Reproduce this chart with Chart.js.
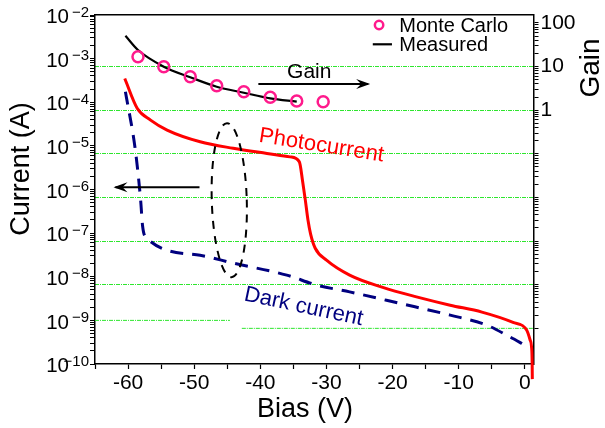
<!DOCTYPE html>
<html><head><meta charset="utf-8">
<script src="https://cdn.jsdelivr.net/npm/chart.js@4.4.1/dist/chart.umd.min.js"></script>
<style>html,body{margin:0;padding:0;background:#fff}#wrap{width:605px;height:428px;position:relative}</style>
</head><body><div id="wrap"><canvas id="c" width="605" height="428"></canvas></div>
<script>
// ---- tick labels ----
const biasTicks = [-60, -50, -40, -30, -20, -10, 0];
const currentDecades = [-10, -9, -8, -7, -6, -5, -4, -3, -2];
const gainLabels = [1, 10, 100];
const gainGridDecades = [-4, -3, -2, -1, 0, 1];

// ---- Monte Carlo gain (circles) ----
const mcBias = [-58.5, -54.6, -50.6, -46.6, -42.5, -38.5, -34.5, -30.5];
const mcGain = [16.9, 9.95, 5.86, 3.65, 2.65, 1.98, 1.63, 1.57];

// ---- Measured gain (black line) ----
const measBias = [-60.4, -58.5, -54.6, -50.6, -46.6, -42.5, -38.5, -34.5];
const measGain = [51, 24, 9.95, 5.7, 3.46, 2.52, 1.87, 1.57];

// ---- Photocurrent (red) ----
const photoBias = [-60.5, -58.6, -56.6, -54.1, -49.1, -44.1, -39.0, -35.5, -34.1, -33.6, -33.2, -32.8, -32.4, -31.7, -30.0, -26.5, -21.5, -16.4, -11.3, -6.5, -1.8, 0.26, 0.8, 1.0, 1.1, 1.12];
const photoCurrent = [3.5e-4, 7.2e-5, 3.9e-5, 2.3e-5, 1.24e-5, 8.8e-6, 6.7e-6, 5.6e-6, 4.3e-6, 1.5e-6, 5.7e-7, 2.0e-7, 9.5e-8, 4.5e-8, 2.4e-8, 1.09e-8, 5.7e-9, 3.46e-9, 2.23e-9, 1.55e-9, 9e-10, 6e-10, 3.5e-10, 2.5e-10, 1e-10, 4.5e-11];

// ---- Dark current (navy dashed) ----
const darkBias = [-60.4, -58.9, -58.1, -57.8, -57.2, -49.1, -44.1, -36.0, -31.5, -26.5, -18.9, -11.3, -5.8, -2.3, 0];
const darkCurrent = [1.74e-4, 8e-6, 5.7e-7, 1.44e-7, 7.7e-8, 3.1e-8, 2.05e-8, 1.09e-8, 6.45e-9, 4.5e-9, 2.45e-9, 1.32e-9, 7.8e-10, 4.2e-10, 2.7e-10];

// ---- partial reference lines (green) ----
const refLineA_bias = [-65, -44.6];   // at current 1e-9
const refLineA_val = 1e-9;
const refLineB_bias = [-42.8, 1.3];   // at gain 1e-5
const refLineB_val = 1e-5;

const FONT = "'Liberation Sans', Arial, 'DejaVu Sans', sans-serif";
const GREEN = '#2ee62e';
const near = (a, b) => Math.abs(Math.log10(a) - Math.log10(b)) < 1e-6;

function logTicks(lo, hi) {
  const out = [];
  for (let e = lo; e < hi; e++) for (let k = 1; k <= 9; k++) out.push(k * Math.pow(10, e));
  out.push(Math.pow(10, hi));
  return out;
}

const pts = (xs, ys) => xs.map((v, i) => ({x: v, y: ys[i]}));
const noPad = s => { s.paddingTop = 0; s.paddingBottom = 0; s.paddingLeft = 0; s.paddingRight = 0; };

const annot = {
  id: 'annot',
  afterDatasetsDraw(chart) {
    const {ctx, scales: {x, y}} = chart;
    const P = (v, c) => [x.getPixelForValue(v), y.getPixelForValue(c)];
    ctx.save();
    function arrow(a, b) {
      ctx.strokeStyle = '#000'; ctx.fillStyle = '#000'; ctx.lineWidth = 2; ctx.setLineDash([]);
      ctx.beginPath(); ctx.moveTo(a[0], a[1]); ctx.lineTo(b[0], b[1]); ctx.stroke();
      const dir = Math.sign(b[0] - a[0]);
      ctx.beginPath();
      ctx.moveTo(b[0] + dir * 2, b[1]);
      ctx.lineTo(b[0] - dir * 12, b[1] - 5);
      ctx.lineTo(b[0] - dir * 7, b[1]);
      ctx.lineTo(b[0] - dir * 12, b[1] + 5);
      ctx.closePath(); ctx.fill();
    }
    arrow(P(-40.3, 2.61e-4), P(-23.7, 2.61e-4));
    arrow(P(-49.2, 1.13e-6), P(-61.9, 1.13e-6));
    // dashed ellipse
    const c = P(-44.7, 5.7e-7);
    const top = P(-44.7, 5.7e-7 * Math.pow(10, 1.766));
    ctx.beginPath();
    ctx.setLineDash([8, 7]); ctx.lineWidth = 2; ctx.strokeStyle = '#000';
    ctx.ellipse(c[0], c[1], 17.5, c[1] - top[1], -0.03, 0, Math.PI * 2);
    ctx.stroke();
    ctx.setLineDash([]);
    // texts
    ctx.font = '21px ' + FONT; ctx.fillStyle = '#000'; ctx.textAlign = 'center'; ctx.textBaseline = 'middle';
    const g = P(-32.6, 4.93e-4); ctx.fillText('Gain', g[0], g[1]);
    ctx.textAlign = 'left'; ctx.textBaseline = 'alphabetic';
    const ph = P(-40.3, 1.24e-5);
    ctx.save(); ctx.translate(ph[0], ph[1]); ctx.rotate(9 * Math.PI / 180);
    ctx.fillStyle = '#ff0000'; ctx.font = '22px ' + FONT; ctx.fillText('Photocurrent', 0, 0); ctx.restore();
    const dk = P(-42.6, 2.9e-9);
    ctx.save(); ctx.translate(dk[0], dk[1]); ctx.rotate(12 * Math.PI / 180);
    ctx.fillStyle = '#00007f'; ctx.font = '22px ' + FONT; ctx.fillText('Dark current', 0, 0); ctx.restore();
    // legend
    const m = P(-22.05, 5.9e-3);
    ctx.beginPath(); ctx.lineWidth = 2.5; ctx.strokeStyle = '#ff1a8c'; ctx.arc(m[0], m[1], 4.2, 0, Math.PI * 2); ctx.stroke();
    const l1 = P(-23.0, 2.13e-3), l2 = P(-20.1, 2.13e-3);
    ctx.beginPath(); ctx.lineWidth = 2.2; ctx.strokeStyle = '#000'; ctx.moveTo(l1[0], l1[1]); ctx.lineTo(l2[0], l2[1]); ctx.stroke();
    ctx.font = '20px ' + FONT; ctx.fillStyle = '#000'; ctx.textBaseline = 'middle';
    const t1 = P(-19.0, 5.9e-3), t2 = P(-19.0, 2.13e-3);
    ctx.fillText('Monte Carlo', t1[0], t1[1] + 1);
    ctx.fillText('Measured', t2[0], t2[1] + 1);
    ctx.restore();
  },
  afterDraw(chart) {
    const {ctx, scales: {y}} = chart;
    ctx.save();
    // exponents of the current tick labels (superscripts)
    ctx.fillStyle = '#000'; ctx.textAlign = 'right'; ctx.textBaseline = 'alphabetic';
    ctx.font = '15px ' + FONT;
    currentDecades.forEach(d => {
      const yy = y.getPixelForValue(Math.pow(10, d));
      ctx.fillText('\u2212' + String(-d), y.right - 6, yy + 1.5);
    });
    ctx.textAlign = 'center'; ctx.textBaseline = 'middle';
    ctx.font = '27px ' + FONT;
    ctx.fillText('Bias (V)', 305, 410);
    ctx.save(); ctx.translate(22, 169); ctx.rotate(-Math.PI / 2); ctx.fillText('Current (A)', 0, 0); ctx.restore();
    ctx.font = '28px ' + FONT;
    ctx.save(); ctx.translate(591, 68); ctx.rotate(-Math.PI / 2); ctx.fillText('Gain', 0, 0); ctx.restore();
    ctx.restore();
  }
};

new Chart(document.getElementById('c'), {
  type: 'line',
  data: {
    datasets: [
      {label: 'Monte Carlo', data: pts(mcBias, mcGain), yAxisID: 'y2', showLine: false,
       pointStyle: 'circle', pointRadius: 5.5, pointBorderWidth: 2.5, pointBorderColor: '#ff1a8c',
       pointBackgroundColor: 'rgba(0,0,0,0)', borderColor: '#ff1a8c', order: 0},
      {label: 'Measured', data: pts(measBias, measGain), yAxisID: 'y2', borderColor: '#000', borderWidth: 2.2,
       pointRadius: 0, cubicInterpolationMode: 'monotone', order: 1},
      {label: 'Photocurrent', data: pts(photoBias, photoCurrent), yAxisID: 'y', borderColor: '#ff0000', borderWidth: 3,
       pointRadius: 0, cubicInterpolationMode: 'monotone', clip: false, order: 2},
      {label: 'Dark current', data: pts(darkBias, darkCurrent), yAxisID: 'y', borderColor: '#00007f', borderWidth: 3,
       borderDash: [13, 9], pointRadius: 0, cubicInterpolationMode: 'monotone', order: 3},
      {label: 'refA', data: refLineA_bias.map(v => ({x: v, y: refLineA_val})), yAxisID: 'y', borderColor: GREEN,
       borderWidth: 1, borderDash: [4, 1, 1, 1], pointRadius: 0, order: 9},
      {label: 'refB', data: refLineB_bias.map(v => ({x: v, y: refLineB_val})), yAxisID: 'y2', borderColor: GREEN,
       borderWidth: 1, borderDash: [4, 1, 1, 1], pointRadius: 0, order: 9}
    ]
  },
  options: {
    responsive: false, animation: false, devicePixelRatio: 1,
    layout: {padding: {top: 15, left: 0, right: 0, bottom: 0}},
    plugins: {legend: {display: false}, tooltip: {enabled: false}},
    scales: {
      x: {type: 'linear', position: 'bottom', min: -65, max: 1.3,
          afterBuildTicks: s => { const t = []; for (let v = -65; v <= 0; v += 5) t.push({value: v}); s.ticks = t; },
          afterFit: s => { s.height = 64; noPad(s); },
          ticks: {callback: v => biasTicks.includes(v) ? String(v) : '', font: {family: FONT, size: 21}, color: '#000', padding: 2, maxRotation: 0, autoSkip: false},
          grid: {drawOnChartArea: false, drawTicks: true, tickLength: 5, tickColor: '#000', tickWidth: 1.2},
          border: {color: '#000', width: 1.5}},
      x2: {type: 'linear', position: 'top', min: -65, max: 1.3,
          afterFit: s => { s.height = 0; noPad(s); },
          ticks: {display: false}, grid: {drawOnChartArea: false, drawTicks: false},
          border: {color: '#000', width: 1.5}},
      y: {type: 'logarithmic', position: 'left', min: 1e-10, max: 1e-2,
          afterBuildTicks: s => { s.ticks = logTicks(-10, -2).map(v => ({value: v})); },
          afterFit: s => { s.width = 95; noPad(s); },
          ticks: {callback: v => currentDecades.some(e => near(v, Math.pow(10, e))) ? '10' : '',
                  font: {family: FONT, size: 20.5}, color: '#000', padding: 21, labelOffset: 2.5, autoSkip: false},
          grid: {drawOnChartArea: false, drawTicks: true, tickLength: 5, tickColor: '#000', tickWidth: 1},
          border: {color: '#000', width: 1.5}},
      y2: {type: 'logarithmic', position: 'right', min: Math.pow(10, -5.817), max: Math.pow(10, 2.183),
          afterBuildTicks: s => { s.ticks = logTicks(-5, 2).filter(v => v >= s.min && v <= s.max).map(v => ({value: v})); },
          afterFit: s => { s.width = 71.5; noPad(s); },
          ticks: {callback: v => { const g = gainLabels.find(k => near(v, k)); return g !== undefined ? String(g) : ''; },
                  font: {family: FONT, size: 21}, color: '#000', padding: 2, autoSkip: false},
          grid: {drawOnChartArea: true, drawTicks: true, tickLength: 5, tickColor: '#000', tickWidth: 1, lineWidth: 1,
                 color: c => gainGridDecades.some(e => near(c.tick.value, Math.pow(10, e))) ? GREEN : 'rgba(0,0,0,0)'},
          border: {color: '#000', width: 1.5, dash: [4, 1, 1, 1]}}
    }
  },
  plugins: [annot]
});
</script>
</body></html>
